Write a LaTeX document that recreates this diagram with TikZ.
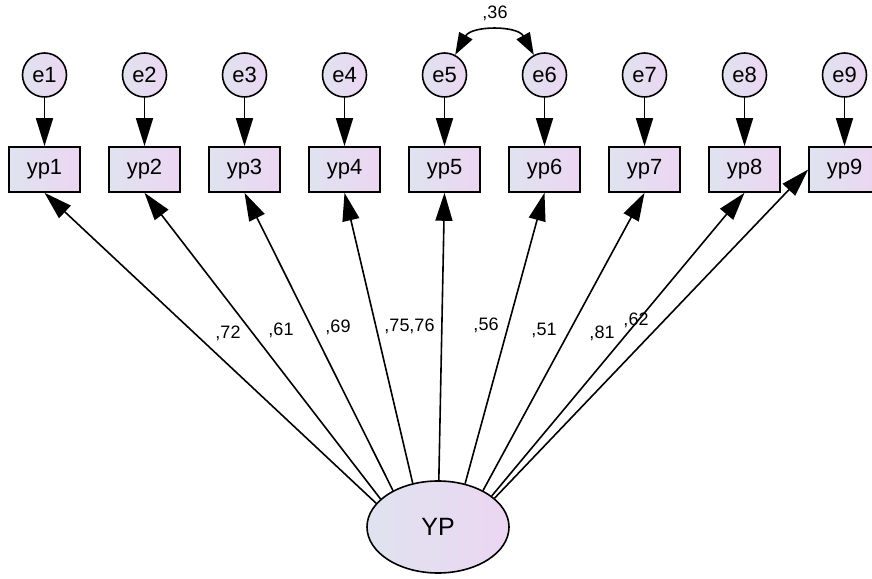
\documentclass[tikz,border=0pt]{standalone}
\usepackage{fontspec}
\setmainfont{Liberation Sans}
\usetikzlibrary{arrows.meta,shapes.geometric}
\definecolor{amosblue}{HTML}{DFE3EF}
\definecolor{amospink}{HTML}{ECD6F2}

\begin{document}
\begin{tikzpicture}[x=1pt,y=1pt,line width=1.6pt,
    obs/.style={draw,left color=amosblue,right color=amospink,minimum width=71pt,minimum height=45pt,inner sep=0pt,font=\fontsize{22}{24}\selectfont},
    err/.style={draw,circle,left color=amosblue,right color=amospink,minimum size=44pt,inner sep=0pt,font=\fontsize{22}{24}\selectfont},
    lat/.style={draw,ellipse,left color=amosblue,right color=amospink,minimum width=142pt,minimum height=92pt,inner sep=0pt,font=\fontsize{25}{27}\selectfont},
    tip/.style={-{Triangle[length=28pt,width=17pt]}},
    lbl/.style={inner sep=0pt,font=\fontsize{18}{20}\selectfont}]
    \useasboundingbox (0,0) rectangle (872,578);
    % indicators and their errors
    \foreach \i in {1,...,9} {
        \node[err] (e\i) at ({44.5+100*(\i-1)},503) {e\i};
        \node[obs] (yp\i) at ({44.5+100*(\i-1)},408.5) {yp\i};
        \draw[tip] (e\i) -- (yp\i);
    }
    \node[lat] (YP) at (438,51) {YP};
    % loadings
    \foreach \i/\a/\t/\w/\x/\y in {1/159/south/72/228/245, 2/154/south/61/281/248, 3/141/south/69/338/251,
        4/120/south/75/397/252, 5/89/south/76/422/252, 6/58/south/56/486/253,
        7/39/south/51/544/248, 8/30/south/81/602/245, 9/27/west/62/636/258} {
        \draw[tip] (YP.\a) -- (yp\i.\t);
        \node[lbl] (w\i) at (\x,\y) {,\w};
    }
    \draw[{Triangle[length=22pt,width=15pt]}-{Triangle[length=22pt,width=15pt]}] (e5.62) to[out=61,in=119,looseness=1.1] (e6.118);
    \node[lbl] (c56) at (495,565) {,36};
\end{tikzpicture}
\end{document}
